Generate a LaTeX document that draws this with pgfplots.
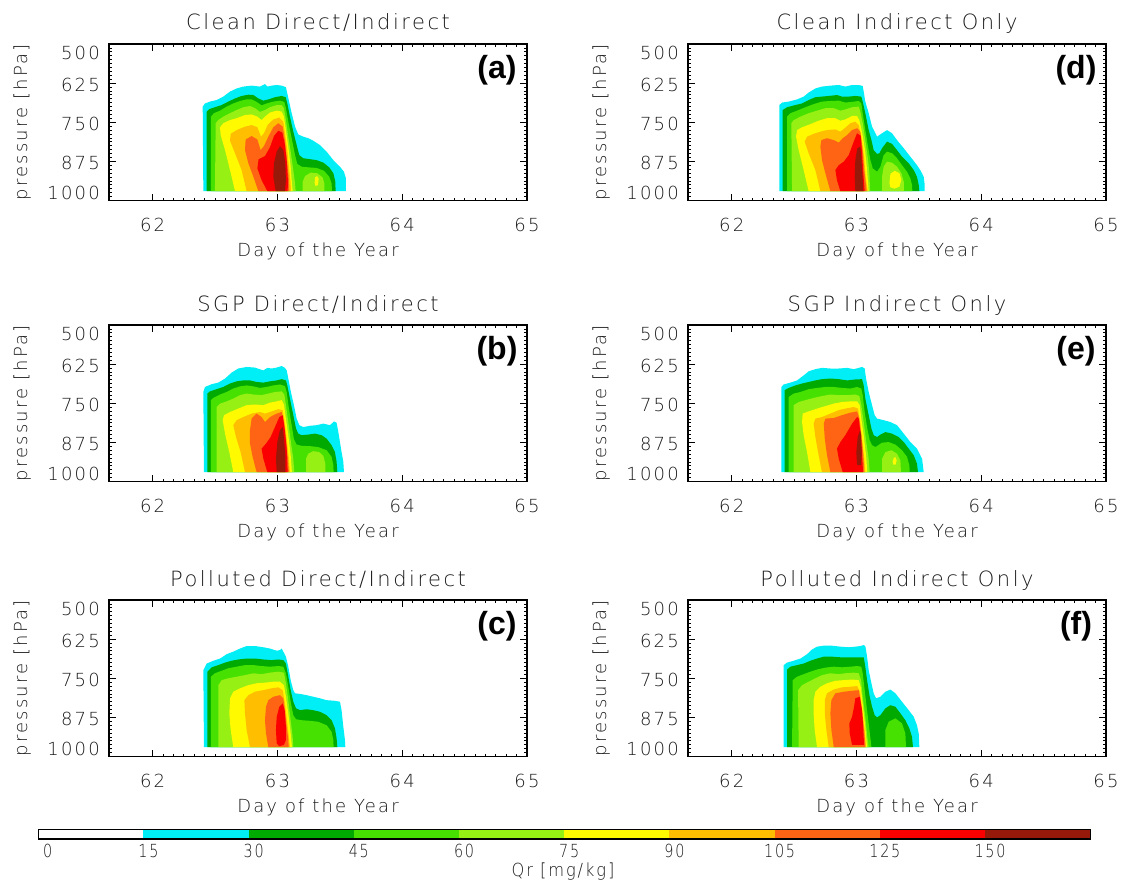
\documentclass[border=0pt]{standalone}
\usepackage{pgfplots}
\pgfplotsset{compat=1.18}
\usepackage{graphicx}
\usepackage{fontspec}
\setmainfont{DejaVu Sans}[UprightFont={* ExtraLight}, LetterSpace=12]
\newfontfamily\panelfont{Liberation Sans}

% Qr contour levels [mg/kg]
\definecolor{q15}{RGB}{0,238,245}
\definecolor{q30}{RGB}{0,170,0}
\definecolor{q45}{RGB}{70,225,0}
\definecolor{q60}{RGB}{150,240,20}
\definecolor{q75}{RGB}{255,250,0}
\definecolor{q90}{RGB}{255,190,0}
\definecolor{q105}{RGB}{255,100,20}
\definecolor{q125}{RGB}{250,0,0}
\definecolor{q150}{RGB}{150,25,10}
\colorlet{txt}{black!90}

\newcommand{\labelsize}{\fontsize{13.5pt}{16pt}\selectfont}
\newcommand{\titlesize}{\fontsize{15.75pt}{18pt}\selectfont}
\newcommand{\lv}[2]{\addplot[fill=#1,draw=none,forget plot] coordinates {#2};}
\newcommand{\panellabel}[1]{\node[font=\panelfont\bfseries\fontsize{24pt}{24pt}\selectfont, text=black, inner sep=0pt, xshift=-22.5pt, yshift=-19.5pt] at (axis description cs:1,1) {#1};}
\newcommand{\cblabel}[3]{\node[anchor=north, inner sep=0pt, xshift=#3, yshift=-3.75pt, font=\labelsize, text=txt] at (axis cs:#1,0) {\scalebox{0.8}[1]{#2}};}

\pgfplotsset{
  qrpanel/.style={
    scale only axis, width=313.5pt, height=117.4pt,
    anchor=north west,
    xmin=61.65, xmax=65, ymin=500, ymax=1000, y dir=reverse,
    xtick={62,63,64,65}, xticklabels={62,63,64,65},
    minor x tick num=11,
    ytick={500,625,750,875,1000},
    yticklabels={\raisebox{-5pt}{500},625,750,875,\raisebox{7pt}{1000}},
    minor y tick num=9,
    tick align=inside,
    major tick length=5.25pt, minor tick length=2.25pt,
    tick style={black, line width=0.6pt},
    axis line style={black, line width=0.9pt},
    /pgf/number format/assume math mode=true,
    tick label style={font=\labelsize, text=txt},
    xticklabel style={anchor=base, yshift=-23.6pt, inner sep=0pt},
    yticklabel style={anchor=base east, inner sep=0pt, xshift=-6.75pt, yshift=-6.4pt},
    xlabel={Day of the Year}, ylabel={pressure [hPa]},
    every axis x label/.style={at={(axis description cs:0.5,0)}, anchor=base, yshift=-42pt, font=\labelsize, text=txt},
    every axis y label/.style={at={(axis description cs:-0.196,0.5)}, rotate=90, anchor=base, font=\labelsize, text=txt},
    every axis title/.style={at={(axis description cs:0.5,1)}, anchor=base, yshift=10.5pt, font=\titlesize, text=txt},
    axis on top,
  }
}

\begin{document}
\begin{tikzpicture}
\useasboundingbox (0,0) rectangle (845.25pt,664.5pt);

% ---------------- (a) Clean Direct/Indirect ----------------
\begin{axis}[qrpanel, at={(81.75pt,631.5pt)}, title={Clean Direct/Indirect}]
\lv{q15}{(62.406,970) (62.401,700) (62.419,690) (62.459,684) (62.513,679) (62.566,668) (62.620,652) (62.673,642) (62.727,636) (62.793,633) (62.860,636) (62.900,628) (62.919,636) (62.953,633) (62.994,631) (63.034,633) (63.068,638) (63.079,658) (63.114,721) (63.141,764) (63.167,789) (63.207,796) (63.247,801) (63.287,809) (63.341,823) (63.394,844) (63.448,871) (63.501,892) (63.533,908) (63.549,929) (63.549,970)}
\lv{q30}{(62.433,970) (62.433,716) (62.454,708) (62.499,702) (62.553,695) (62.606,684) (62.660,674) (62.713,666) (62.767,662) (62.807,663) (62.847,674) (62.887,681) (62.927,677) (62.980,670) (63.034,666) (63.066,670) (63.079,690) (63.100,732) (63.127,780) (63.154,823) (63.175,855) (63.207,865) (63.261,868) (63.314,871) (63.368,879) (63.415,894) (63.448,913) (63.464,940) (63.466,970)}
\lv{q45}{(62.467,970) (62.467,732) (62.491,721) (62.540,713) (62.593,700) (62.646,690) (62.700,682) (62.753,677) (62.793,677) (62.833,685) (62.873,696) (62.913,690) (62.967,684) (63.020,681) (63.055,685) (63.068,705) (63.087,748) (63.114,801) (63.141,855) (63.159,883) (63.194,892) (63.247,894) (63.314,896) (63.373,905) (63.415,924) (63.434,945) (63.437,970)}
\lv{q60}{(62.499,970) (62.505,753) (62.526,743) (62.566,732) (62.620,721) (62.673,711) (62.727,702) (62.780,698) (62.820,705) (62.860,717) (62.900,711) (62.940,702) (62.994,695) (63.034,695) (63.052,705) (63.068,743) (63.087,796) (63.108,849) (63.127,903) (63.141,945) (63.146,970)}
\lv{q60}{(63.202,970) (63.202,940) (63.221,922) (63.266,911) (63.319,913) (63.362,926) (63.376,945) (63.376,970)}
\lv{q75}{(63.298,945) (63.301,926) (63.319,922) (63.330,930) (63.325,950) (63.306,954)}
\lv{q75}{(62.660,970) (62.620,903) (62.580,839) (62.545,791) (62.540,766) (62.566,753) (62.620,743) (62.673,737) (62.740,727) (62.793,725) (62.839,732) (62.873,743) (62.900,732) (62.940,719) (62.994,713) (63.034,716) (63.052,732) (63.068,775) (63.087,828) (63.106,892) (63.116,945) (63.122,970)}
\lv{q90}{(62.753,970) (62.713,903) (62.660,849) (62.620,809) (62.625,787) (62.673,775) (62.740,764) (62.793,759) (62.839,766) (62.868,796) (62.892,785) (62.921,759) (62.967,741) (63.015,735) (63.047,748) (63.060,785) (63.079,839) (63.095,903) (63.106,945) (63.108,970)}
\lv{q105}{(62.847,970) (62.807,924) (62.767,881) (62.740,839) (62.745,805) (62.793,794) (62.839,805) (62.865,839) (62.892,826) (62.927,796) (62.967,766) (63.007,753) (63.042,764) (63.060,807) (63.074,860) (63.090,924) (63.095,970)}
\lv{q125}{(62.919,970) (62.873,935) (62.839,897) (62.849,868) (62.900,858) (62.940,830) (62.972,794) (63.007,777) (63.039,783) (63.058,817) (63.074,871) (63.084,935) (63.082,970)}
\lv{q150}{(62.986,970) (62.967,924) (62.972,881) (62.994,844) (63.020,826) (63.047,839) (63.063,881) (63.068,935) (63.060,970)}
\panellabel{(a)}
\end{axis}

% ---------------- (d) Clean Indirect Only ----------------
\begin{axis}[qrpanel, at={(516pt,631.5pt)}, title={Clean Indirect Only}]
\lv{q15}{(62.382,970) (62.382,695) (62.404,687) (62.457,684) (62.524,677) (62.577,668) (62.617,655) (62.671,642) (62.724,636) (62.791,633) (62.858,631) (62.911,636) (62.965,631) (63.018,631) (63.050,634) (63.058,652) (63.071,684) (63.098,721) (63.125,764) (63.152,785) (63.165,796) (63.205,785) (63.245,775) (63.285,785) (63.325,807) (63.379,833) (63.432,860) (63.485,887) (63.512,903) (63.539,924) (63.547,950) (63.547,970)}
\lv{q30}{(62.409,970) (62.409,711) (62.444,702) (62.511,695) (62.564,690) (62.617,679) (62.671,670) (62.724,668) (62.778,666) (62.844,663) (62.884,668) (62.938,668) (62.991,666) (63.039,668) (63.050,684) (63.071,721) (63.098,775) (63.120,807) (63.138,839) (63.165,851) (63.184,849) (63.205,833) (63.245,812) (63.285,819) (63.325,839) (63.365,860) (63.419,881) (63.459,903) (63.485,924) (63.499,950) (63.504,970)}
\lv{q45}{(62.444,970) (62.444,732) (62.471,721) (62.524,713) (62.591,702) (62.657,692) (62.724,684) (62.791,682) (62.858,681) (62.911,687) (62.965,685) (63.018,682) (63.039,690) (63.050,721) (63.071,775) (63.093,828) (63.112,871) (63.130,897) (63.165,908) (63.192,892) (63.218,855) (63.245,844) (63.285,849) (63.325,865) (63.365,887) (63.405,908) (63.432,929) (63.445,950) (63.448,970)}
\lv{q60}{(62.484,970) (62.478,753) (62.497,743) (62.551,732) (62.617,721) (62.684,713) (62.751,705) (62.818,705) (62.871,713) (62.911,709) (62.965,702) (63.018,700) (63.031,716) (63.050,753) (63.071,807) (63.090,860) (63.104,913) (63.109,970)}
\lv{q60}{(63.205,970) (63.205,924) (63.218,892) (63.245,876) (63.285,879) (63.325,892) (63.360,913) (63.379,940) (63.381,970)}
\lv{q75}{(63.264,945) (63.272,915) (63.306,905) (63.344,913) (63.360,934) (63.344,956) (63.306,962) (63.272,958)}
\lv{q75}{(62.617,970) (62.577,903) (62.537,839) (62.516,796) (62.524,775) (62.564,766) (62.631,756) (62.697,745) (62.764,737) (62.831,737) (62.871,745) (62.911,741) (62.965,730) (63.005,730) (63.023,743) (63.047,785) (63.069,839) (63.085,903) (63.098,970)}
\lv{q90}{(62.711,970) (62.671,903) (62.617,849) (62.585,812) (62.604,796) (62.657,787) (62.711,780) (62.764,775) (62.831,773) (62.871,780) (62.906,769) (62.951,753) (62.991,748) (63.018,759) (63.039,796) (63.061,860) (63.074,924) (63.090,970)}
\lv{q105}{(62.791,970) (62.751,913) (62.724,871) (62.711,828) (62.719,807) (62.764,801) (62.818,807) (62.858,815) (62.890,801) (62.925,791) (62.965,775) (63.005,769) (63.031,780) (63.050,839) (63.063,903) (63.082,970)}
\lv{q125}{(62.871,970) (62.844,935) (62.831,903) (62.858,887) (62.898,876) (62.938,855) (62.978,812) (63.005,785) (63.034,793) (63.045,849) (63.055,913) (63.066,970)}
\lv{q150}{(62.991,970) (62.986,924) (62.991,871) (63.007,833) (63.031,828) (63.039,860) (63.047,913) (63.055,970)}
\panellabel{(d)}
\end{axis}

% ---------------- (b) SGP Direct/Indirect ----------------
\begin{axis}[qrpanel, at={(81.75pt,420.75pt)}, title={SGP Direct/Indirect}]
\lv{q15}{(62.411,970) (62.406,714) (62.419,698) (62.473,689) (62.526,684) (62.580,671) (62.633,652) (62.686,639) (62.753,634) (62.820,636) (62.887,645) (62.919,637) (62.953,639) (62.994,636) (63.034,631) (63.060,637) (63.074,645) (63.087,671) (63.108,714) (63.132,756) (63.154,799) (63.175,820) (63.207,826) (63.261,822) (63.314,820) (63.368,815) (63.421,820) (63.453,808) (63.474,812) (63.488,842) (63.501,874) (63.514,906) (63.528,937) (63.533,970)}
\lv{q30}{(62.438,970) (62.438,719) (62.459,712) (62.513,705) (62.566,698) (62.620,687) (62.673,680) (62.727,677) (62.780,677) (62.833,682) (62.887,684) (62.940,680) (62.994,677) (63.034,673) (63.068,677) (63.079,693) (63.100,735) (63.127,788) (63.149,831) (63.167,847) (63.194,852) (63.247,850) (63.301,847) (63.354,852) (63.394,863) (63.434,884) (63.461,906) (63.474,937) (63.480,970)}
\lv{q45}{(62.467,970) (62.467,740) (62.486,733) (62.540,722) (62.593,714) (62.646,703) (62.700,696) (62.753,693) (62.807,696) (62.860,701) (62.913,698) (62.967,693) (63.020,690) (63.060,695) (63.074,714) (63.092,767) (63.114,820) (63.132,865) (63.154,882) (63.194,886) (63.261,887) (63.327,890) (63.394,900) (63.434,921) (63.448,948) (63.450,970)}
\lv{q60}{(62.513,970) (62.513,762) (62.540,751) (62.593,744) (62.646,735) (62.700,724) (62.753,719) (62.807,722) (62.873,724) (62.927,719) (62.980,714) (63.034,712) (63.055,722) (63.068,756) (63.087,810) (63.108,874) (63.127,927) (63.135,970)}
\lv{q60}{(63.229,970) (63.229,927) (63.247,911) (63.287,903) (63.335,906) (63.368,918) (63.384,943) (63.384,970)}
\lv{q75}{(62.646,970) (62.614,906) (62.580,847) (62.561,804) (62.572,788) (62.620,778) (62.686,767) (62.753,756) (62.820,754) (62.887,756) (62.940,748) (62.994,744) (63.034,740) (63.052,754) (63.068,799) (63.087,852) (63.106,916) (63.116,970)}
\lv{q90}{(62.740,970) (62.705,906) (62.668,858) (62.646,820) (62.673,804) (62.727,794) (62.793,783) (62.860,778) (62.900,783) (62.953,776) (63.007,769) (63.042,772) (63.058,810) (63.074,863) (63.092,927) (63.100,970)}
\lv{q105}{(62.833,970) (62.801,921) (62.780,879) (62.780,836) (62.793,799) (62.833,783) (62.873,794) (62.900,810) (62.940,794) (62.994,783) (63.034,778) (63.052,810) (63.068,863) (63.084,927) (63.092,970)}
\lv{q125}{(62.919,970) (62.887,927) (62.873,895) (62.908,879) (62.945,858) (62.980,826) (63.015,794) (63.042,788) (63.058,831) (63.074,895) (63.082,970)}
\lv{q150}{(62.994,970) (62.988,927) (62.999,874) (63.020,836) (63.042,826) (63.052,863) (63.063,916) (63.063,970)}
\panellabel{(b)}
\end{axis}

% ---------------- (e) SGP Indirect Only ----------------
\begin{axis}[qrpanel, at={(516pt,420.75pt)}, title={SGP Indirect Only}]
\lv{q15}{(62.398,970) (62.398,698) (62.417,690) (62.471,684) (62.524,677) (62.577,661) (62.617,648) (62.671,641) (62.724,637) (62.791,639) (62.858,639) (62.925,637) (62.978,641) (63.018,637) (63.045,634) (63.066,639) (63.077,671) (63.098,714) (63.125,756) (63.146,788) (63.165,799) (63.218,804) (63.272,810) (63.325,820) (63.379,847) (63.432,874) (63.485,895) (63.526,927) (63.539,970)}
\lv{q30}{(62.425,970) (62.425,708) (62.457,701) (62.511,693) (62.564,687) (62.617,682) (62.671,677) (62.724,673) (62.791,671) (62.858,673) (62.925,677) (62.991,674) (63.045,673) (63.058,693) (63.071,735) (63.098,788) (63.120,831) (63.138,852) (63.165,858) (63.192,850) (63.232,842) (63.285,847) (63.339,858) (63.379,874) (63.419,895) (63.459,916) (63.485,943) (63.493,970)}
\lv{q45}{(62.457,970) (62.457,730) (62.497,719) (62.551,714) (62.617,705) (62.684,701) (62.751,698) (62.818,698) (62.884,701) (62.951,703) (63.005,698) (63.039,703) (63.050,724) (63.066,778) (63.087,831) (63.106,868) (63.125,884) (63.152,890) (63.205,876) (63.258,874) (63.312,882) (63.365,900) (63.405,921) (63.424,948) (63.427,970)}
\lv{q60}{(62.497,970) (62.497,756) (62.537,746) (62.591,740) (62.657,733) (62.724,727) (62.791,722) (62.858,724) (62.925,724) (62.991,722) (63.023,727) (63.039,756) (63.058,810) (63.079,874) (63.098,927) (63.106,970)}
\lv{q60}{(63.205,970) (63.205,927) (63.232,906) (63.280,900) (63.325,911) (63.352,932) (63.357,970)}
\lv{q75}{(63.290,937) (63.298,925) (63.312,922) (63.322,932) (63.314,946) (63.296,946)}
\lv{q75}{(62.631,970) (62.604,906) (62.577,852) (62.564,810) (62.569,783) (62.617,776) (62.684,767) (62.751,759) (62.818,751) (62.884,746) (62.951,744) (63.005,744) (63.026,756) (63.039,799) (63.058,852) (63.077,916) (63.087,970)}
\lv{q90}{(62.724,970) (62.692,906) (62.671,858) (62.657,815) (62.671,799) (62.724,794) (62.791,783) (62.858,772) (62.911,767) (62.978,762) (63.013,767) (63.029,810) (63.045,863) (63.063,927) (63.071,970)}
\lv{q105}{(62.791,970) (62.764,916) (62.746,863) (62.738,815) (62.751,799) (62.818,797) (62.884,788) (62.951,780) (63.005,776) (63.023,799) (63.039,852) (63.055,916) (63.063,970)}
\lv{q125}{(62.890,970) (62.858,927) (62.844,895) (62.871,874) (62.911,852) (62.965,815) (63.005,794) (63.018,799) (63.034,852) (63.045,916) (63.053,970)}
\lv{q150}{(63.005,948) (62.999,906) (63.010,858) (63.029,836) (63.037,852) (63.042,906) (63.037,948)}
\panellabel{(e)}
\end{axis}

% ---------------- (c) Polluted Direct/Indirect ----------------
\begin{axis}[qrpanel, at={(81.75pt,214.5pt)}, title={Polluted Direct/Indirect}]
\lv{q15}{(62.411,970) (62.406,724) (62.433,703) (62.486,694) (62.540,687) (62.593,673) (62.646,665) (62.700,655) (62.753,647) (62.820,647) (62.887,651) (62.940,655) (62.994,662) (63.020,660) (63.034,655) (63.047,665) (63.068,681) (63.087,713) (63.106,756) (63.127,788) (63.141,798) (63.181,800) (63.234,804) (63.287,809) (63.341,814) (63.394,820) (63.461,822) (63.501,825) (63.514,852) (63.528,905) (63.541,947) (63.544,970)}
\lv{q30}{(62.438,970) (62.438,729) (62.473,715) (62.526,708) (62.580,700) (62.633,694) (62.686,690) (62.753,687) (62.820,687) (62.887,690) (62.953,692) (63.007,690) (63.047,692) (63.068,703) (63.087,745) (63.106,788) (63.127,825) (63.149,846) (63.181,852) (63.234,849) (63.287,852) (63.341,857) (63.394,868) (63.434,884) (63.461,910) (63.474,942) (63.480,970)}
\lv{q45}{(62.467,970) (62.467,745) (62.499,734) (62.553,726) (62.606,718) (62.673,713) (62.740,708) (62.807,708) (62.873,711) (62.940,713) (63.007,711) (63.047,713) (63.068,734) (63.087,777) (63.108,830) (63.127,868) (63.149,881) (63.194,884) (63.261,886) (63.327,889) (63.394,900) (63.434,921) (63.448,947) (63.450,970)}
\lv{q60}{(62.526,970) (62.526,772) (62.553,756) (62.606,750) (62.673,745) (62.740,740) (62.807,734) (62.873,737) (62.940,732) (63.007,729) (63.052,732) (63.068,766) (63.087,820) (63.106,884) (63.122,937) (63.127,970)}
\lv{q75}{(62.646,970) (62.625,915) (62.614,862) (62.620,814) (62.646,793) (62.700,782) (62.767,772) (62.833,766) (62.900,764) (62.967,761) (63.020,761) (63.052,772) (63.068,809) (63.087,862) (63.106,926) (63.116,970)}
\lv{q90}{(62.780,970) (62.753,915) (62.740,862) (62.735,820) (62.767,804) (62.820,793) (62.887,788) (62.953,782) (63.007,779) (63.042,788) (63.058,825) (63.074,878) (63.092,937) (63.100,970)}
\lv{q105}{(62.927,970) (62.908,926) (62.900,884) (62.908,841) (62.927,820) (62.967,809) (63.020,804) (63.047,814) (63.060,852) (63.074,905) (63.087,947) (63.090,970)}
\lv{q125}{(62.994,958) (62.988,915) (62.994,873) (63.015,841) (63.042,830) (63.058,852) (63.068,905) (63.068,947) (63.052,963) (63.015,967)}
\panellabel{(c)}
\end{axis}

% ---------------- (f) Polluted Indirect Only ----------------
\begin{axis}[qrpanel, at={(516pt,214.5pt)}, title={Polluted Indirect Only}]
\lv{q15}{(62.417,970) (62.417,708) (62.444,700) (62.497,694) (62.551,687) (62.604,673) (62.644,658) (62.684,649) (62.738,646) (62.804,646) (62.871,649) (62.938,651) (62.991,649) (63.031,647) (63.058,644) (63.071,647) (63.085,681) (63.098,724) (63.120,766) (63.138,798) (63.157,814) (63.192,809) (63.232,793) (63.272,786) (63.312,798) (63.365,825) (63.419,852) (63.459,873) (63.485,900) (63.499,926) (63.504,970)}
\lv{q30}{(62.444,970) (62.444,722) (62.471,713) (62.524,708) (62.577,703) (62.631,694) (62.684,687) (62.738,681) (62.804,681) (62.871,683) (62.938,683) (63.005,683) (63.058,683) (63.071,713) (63.085,756) (63.104,804) (63.125,841) (63.146,868) (63.165,875) (63.192,868) (63.232,846) (63.272,836) (63.312,841) (63.352,862) (63.392,884) (63.424,910) (63.445,937) (63.453,970)}
\lv{q45}{(62.484,970) (62.489,756) (62.524,745) (62.577,737) (62.631,729) (62.684,722) (62.751,716) (62.818,713) (62.884,715) (62.951,713) (63.005,711) (63.039,713) (63.050,734) (63.066,788) (63.085,852) (63.104,915) (63.120,970)}
\lv{q45}{(63.232,970) (63.232,915) (63.258,889) (63.312,878) (63.365,894) (63.392,926) (63.397,970)}
\lv{q60}{(62.537,970) (62.532,788) (62.564,772) (62.617,761) (62.671,750) (62.724,740) (62.791,734) (62.858,737) (62.911,734) (62.978,732) (63.018,734) (63.037,756) (63.050,809) (63.071,873) (63.087,937) (63.098,970)}
\lv{q75}{(62.684,970) (62.665,915) (62.657,862) (62.657,820) (62.671,793) (62.711,777) (62.764,766) (62.831,758) (62.898,756) (62.965,754) (63.018,756) (63.034,777) (63.050,830) (63.071,905) (63.085,970)}
\lv{q90}{(62.778,970) (62.759,915) (62.746,862) (62.746,820) (62.764,798) (62.818,786) (62.884,779) (62.951,777) (63.005,775) (63.029,793) (63.045,852) (63.066,915) (63.077,970)}
\lv{q105}{(62.818,970) (62.799,915) (62.791,862) (62.799,820) (62.831,798) (62.898,793) (62.965,790) (63.018,788) (63.034,820) (63.050,873) (63.066,937) (63.071,970)}
\lv{q125}{(62.965,963) (62.946,926) (62.943,894) (62.965,873) (62.981,841) (62.991,814) (63.026,809) (63.045,852) (63.055,915) (63.061,963)}
\panellabel{(f)}
\end{axis}

% ---------------- colour bar ----------------
\begin{axis}[at={(28.7pt,35.25pt)}, anchor=south west, scale only axis,
  width=789pt, height=7.3pt, xmin=0, xmax=10, ymin=0, ymax=1,
  ticks=none, axis line style={black, line width=1.1pt}, axis on top, clip=false]
\addplot[fill=white,draw=none] coordinates {(0,0) (1,0) (1,1) (0,1)};
\addplot[fill=q15,draw=none] coordinates {(1,0) (2,0) (2,1) (1,1)};
\addplot[fill=q30,draw=none] coordinates {(2,0) (3,0) (3,1) (2,1)};
\addplot[fill=q45,draw=none] coordinates {(3,0) (4,0) (4,1) (3,1)};
\addplot[fill=q60,draw=none] coordinates {(4,0) (5,0) (5,1) (4,1)};
\addplot[fill=q75,draw=none] coordinates {(5,0) (6,0) (6,1) (5,1)};
\addplot[fill=q90,draw=none] coordinates {(6,0) (7,0) (7,1) (6,1)};
\addplot[fill=q105,draw=none] coordinates {(7,0) (8,0) (8,1) (7,1)};
\addplot[fill=q125,draw=none] coordinates {(8,0) (9,0) (9,1) (8,1)};
\addplot[fill=q150,draw=none] coordinates {(9,0) (10,0) (10,1) (9,1)};
\cblabel{0}{0}{7.1pt}
\cblabel{1}{15}{3.75pt}
\cblabel{2}{30}{3.75pt}
\cblabel{3}{45}{3.75pt}
\cblabel{4}{60}{3.75pt}
\cblabel{5}{75}{3.75pt}
\cblabel{6}{90}{3.75pt}
\cblabel{7}{105}{3.75pt}
\cblabel{8}{125}{3.75pt}
\cblabel{9}{150}{3.75pt}
\end{axis}
\node[font=\labelsize, text=txt] at (422.25pt,10.5pt) {\scalebox{0.9}[1]{Qr [mg/kg]}};
\end{tikzpicture}
\end{document}
